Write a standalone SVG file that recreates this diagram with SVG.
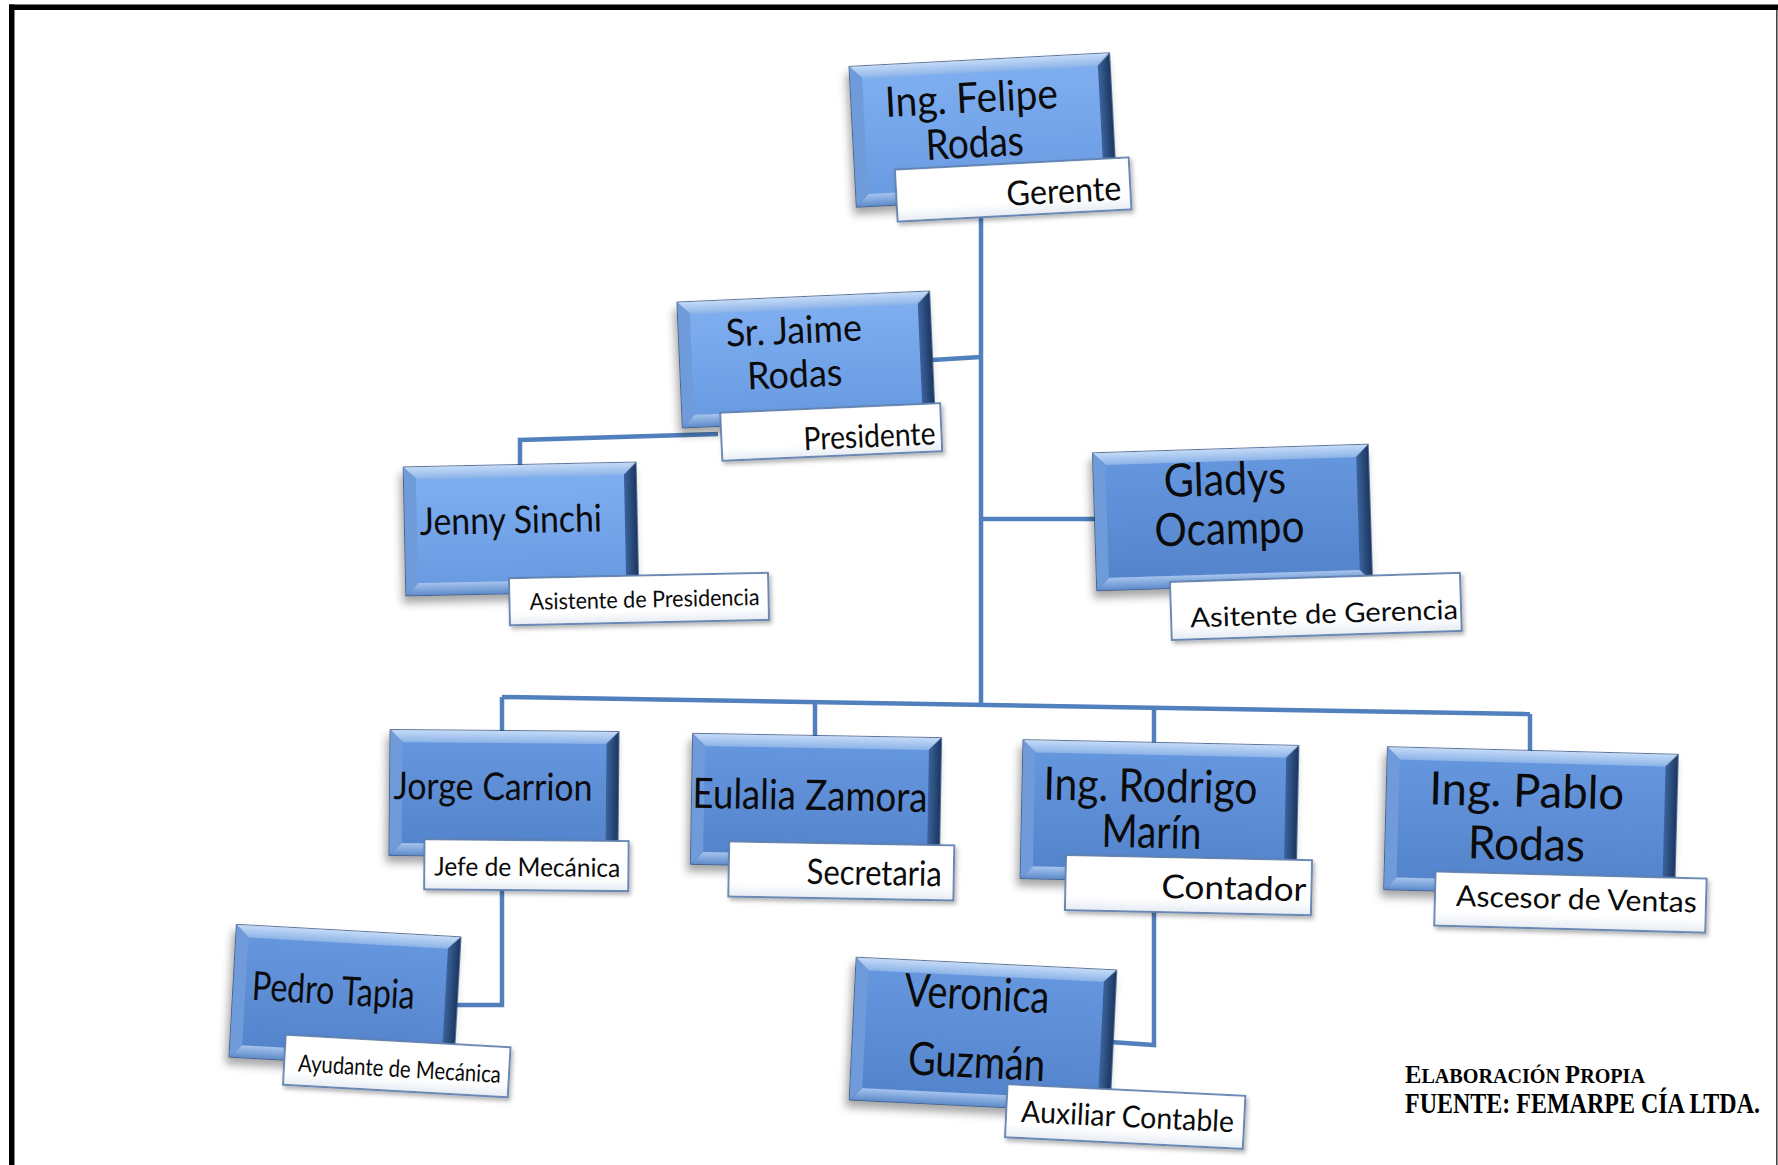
<svg xmlns="http://www.w3.org/2000/svg" width="1778" height="1165" viewBox="0 0 1778 1165">
<defs>
<linearGradient id="faceA" x1="0" y1="0" x2="0" y2="1"><stop offset="0" stop-color="#7eaef0"/><stop offset="1" stop-color="#6a9be2"/></linearGradient>
<linearGradient id="faceB" x1="0" y1="0" x2="0" y2="1"><stop offset="0" stop-color="#6596de"/><stop offset="1" stop-color="#5484cc"/></linearGradient>
<linearGradient id="bevT" x1="0" y1="0" x2="0" y2="1"><stop offset="0" stop-color="#c4dbf7"/><stop offset="1" stop-color="#8cb3e8"/></linearGradient>
<linearGradient id="bevR" x1="0" y1="0" x2="1" y2="0"><stop offset="0" stop-color="#3b639d"/><stop offset="1" stop-color="#1c375f"/></linearGradient>
<linearGradient id="bevB" x1="0" y1="0" x2="0" y2="1"><stop offset="0" stop-color="#a5c4ee"/><stop offset="1" stop-color="#5f8ccb"/></linearGradient>
<linearGradient id="lab" x1="0" y1="0" x2="0" y2="1"><stop offset="0" stop-color="#ffffff"/><stop offset="0.75" stop-color="#ffffff"/><stop offset="1" stop-color="#e6ecf4"/></linearGradient>
<filter id="sh" x="-20%" y="-20%" width="140%" height="150%"><feDropShadow dx="-3" dy="7" stdDeviation="4" flood-color="#000" flood-opacity="0.35"/></filter>
<filter id="shl" x="-10%" y="-20%" width="120%" height="160%"><feDropShadow dx="2" dy="3" stdDeviation="2" flood-color="#000" flood-opacity="0.3"/></filter>
</defs>
<style>
.rim{fill:#2f5892;stroke:#24467a;stroke-width:1.5}
.bt{fill:url(#bevT)}
.bl{fill:#6f9bda}
.br{fill:url(#bevR)}
.bb{fill:url(#bevB)}
.fa{fill:url(#faceA)}
.fb{fill:url(#faceB)}
.lab{fill:url(#lab);stroke:#5d7fae;stroke-width:1.8;filter:url(#shl)}
.nm{font-family:Lato,"Open Sans","DejaVu Sans",sans-serif;fill:#0b0b0b;text-anchor:middle}
.tl{font-family:Lato,"Open Sans","DejaVu Sans",sans-serif;fill:#0b0b0b}
.cn{fill:none;stroke:#5180bd;stroke-width:4.5;stroke-linejoin:miter}
.ft{font-family:"Liberation Serif","DejaVu Serif",serif;font-weight:bold;fill:#000}
</style>
<rect width="1778" height="1165" fill="#ffffff"/>
<g id="border">
<rect x="9" y="4.5" width="1769" height="5.5" fill="#000"/>
<rect x="9" y="4.5" width="5.5" height="1161" fill="#000"/>
<rect x="1776" y="10" width="1.6" height="1155" fill="#444"/>
</g>
<g id="connectors">
<path class="cn" d="M981,216 V705"/>
<path class="cn" d="M932,360 L981,357"/>
<path class="cn" d="M981,519 H1097"/>
<path class="cn" d="M718,434 L520,440 V466"/>
<path class="cn" d="M502,697 L1530,714"/>
<path class="cn" d="M502,697 V732"/>
<path class="cn" d="M815,702 V738"/>
<path class="cn" d="M1154,708 V744"/>
<path class="cn" d="M1530,714 V752"/>
<path class="cn" d="M502,890 V1005 H452"/>
<path class="cn" d="M1154,910 V1045 L1110,1042"/>
</g>
<g id="n-felipe" transform="rotate(-3 983 130)">
<g transform="translate(853,60)" filter="url(#sh)">
<rect class="rim" width="260" height="140"/>
<polygon class="bt" points="0,0 260,0 248,12 12,12"/><polygon class="bl" points="0,0 12,12 12,128 0,140"/><polygon class="br" points="260,0 260,140 248,128 248,12"/><polygon class="bb" points="0,140 260,140 248,128 12,128"/>
<rect class="fa" x="12" y="12" width="236" height="116"/>
</g>
<text class="nm" x="973" y="112" font-size="42" textLength="173" lengthAdjust="spacingAndGlyphs">Ing. Felipe</text>
<text class="nm" x="974" y="157" font-size="42" textLength="98" lengthAdjust="spacingAndGlyphs">Rodas</text>
<rect class="lab" x="893" y="165" width="234" height="52"/>
<text class="tl" x="1003" y="207" font-size="34" textLength="115" lengthAdjust="spacingAndGlyphs">Gerente</text>
</g>
<g id="n-jaime" transform="rotate(-2.5 806 359)">
<g transform="translate(680,297)" filter="url(#sh)">
<rect class="rim" width="252" height="125"/>
<polygon class="bt" points="0,0 252,0 240,12 12,12"/><polygon class="bl" points="0,0 12,12 12,113 0,125"/><polygon class="br" points="252,0 252,125 240,113 240,12"/><polygon class="bb" points="0,125 252,125 240,113 12,113"/>
<rect class="fa" x="12" y="12" width="228" height="101"/>
</g>
<text class="nm" x="795" y="343" font-size="38" textLength="136" lengthAdjust="spacingAndGlyphs">Sr. Jaime</text>
<text class="nm" x="794" y="387" font-size="38" textLength="95" lengthAdjust="spacingAndGlyphs">Rodas</text>
<rect class="lab" x="718" y="409" width="220" height="48"/>
<text class="tl" x="800" y="450" font-size="32" textLength="132" lengthAdjust="spacingAndGlyphs">Presidente</text>
</g>
<g id="n-jenny" transform="rotate(-1.2 521 529)">
<g transform="translate(405,465)" filter="url(#sh)">
<rect class="rim" width="232" height="128"/>
<polygon class="bt" points="0,0 232,0 220,12 12,12"/><polygon class="bl" points="0,0 12,12 12,116 0,128"/><polygon class="br" points="232,0 232,128 220,116 220,12"/><polygon class="bb" points="0,128 232,128 220,116 12,116"/>
<rect class="fa" x="12" y="12" width="208" height="104"/>
</g>
<text class="nm" x="511" y="533" font-size="38" textLength="182" lengthAdjust="spacingAndGlyphs">Jenny Sinchi</text>
<rect class="lab" x="508" y="578" width="259" height="47"/>
<text class="tl" x="528" y="610" font-size="23" textLength="230" lengthAdjust="spacingAndGlyphs">Asistente de Presidencia</text>
</g>
<g id="n-gladys" transform="rotate(-1.8 1232 517)">
<g transform="translate(1095,449)" filter="url(#sh)">
<rect class="rim" width="275" height="137"/>
<polygon class="bt" points="0,0 275,0 263,12 12,12"/><polygon class="bl" points="0,0 12,12 12,125 0,137"/><polygon class="br" points="275,0 275,137 263,125 263,12"/><polygon class="bb" points="0,137 275,137 263,125 12,125"/>
<rect class="fb" x="12" y="12" width="251" height="113"/>
</g>
<text class="nm" x="1226" y="495" font-size="46" textLength="122" lengthAdjust="spacingAndGlyphs">Gladys</text>
<text class="nm" x="1229" y="544" font-size="46" textLength="150" lengthAdjust="spacingAndGlyphs">Ocampo</text>
<rect class="lab" x="1168" y="580" width="290" height="58"/>
<text class="tl" x="1187" y="626" font-size="27" textLength="268" lengthAdjust="spacingAndGlyphs">Asitente de Gerencia</text>
</g>
<g id="n-jorge" transform="rotate(0.5 504 793)">
<g transform="translate(390,731)" filter="url(#sh)">
<rect class="rim" width="228" height="125"/>
<polygon class="bt" points="0,0 228,0 216,12 12,12"/><polygon class="bl" points="0,0 12,12 12,113 0,125"/><polygon class="br" points="228,0 228,125 216,113 216,12"/><polygon class="bb" points="0,125 228,125 216,113 12,113"/>
<rect class="fb" x="12" y="12" width="204" height="101"/>
</g>
<text class="nm" x="493" y="800" font-size="38" textLength="199" lengthAdjust="spacingAndGlyphs">Jorge Carrion</text>
<rect class="lab" x="425" y="840" width="204" height="50"/>
<text class="tl" x="435" y="876" font-size="26" textLength="186" lengthAdjust="spacingAndGlyphs">Jefe de Mecánica</text>
</g>
<g id="n-eulalia" transform="rotate(1 816 801)">
<g transform="translate(692,736)" filter="url(#sh)">
<rect class="rim" width="248" height="130"/>
<polygon class="bt" points="0,0 248,0 236,12 12,12"/><polygon class="bl" points="0,0 12,12 12,118 0,130"/><polygon class="br" points="248,0 248,130 236,118 236,12"/><polygon class="bb" points="0,130 248,130 236,118 12,118"/>
<rect class="fb" x="12" y="12" width="224" height="106"/>
</g>
<text class="nm" x="810" y="810" font-size="42" textLength="235" lengthAdjust="spacingAndGlyphs">Eulalia Zamora</text>
<rect class="lab" x="730" y="843" width="225" height="55"/>
<text class="tl" x="808" y="884" font-size="35" textLength="135" lengthAdjust="spacingAndGlyphs">Secretaria</text>
</g>
<g id="n-rodrigo" transform="rotate(1.2 1159 812)">
<g transform="translate(1022,743)" filter="url(#sh)">
<rect class="rim" width="275" height="138"/>
<polygon class="bt" points="0,0 275,0 263,12 12,12"/><polygon class="bl" points="0,0 12,12 12,126 0,138"/><polygon class="br" points="275,0 275,138 263,126 263,12"/><polygon class="bb" points="0,138 275,138 263,126 12,126"/>
<rect class="fb" x="12" y="12" width="251" height="114"/>
</g>
<text class="nm" x="1150" y="802" font-size="46" textLength="214" lengthAdjust="spacingAndGlyphs">Ing. Rodrigo</text>
<text class="nm" x="1152" y="848" font-size="46" textLength="100" lengthAdjust="spacingAndGlyphs">Marín</text>
<rect class="lab" x="1067" y="857" width="246" height="55"/>
<text class="tl" x="1163" y="898" font-size="33" textLength="145" lengthAdjust="spacingAndGlyphs">Contador</text>
</g>
<g id="n-pablo" transform="rotate(1.5 1531 822)">
<g transform="translate(1386,751)" filter="url(#sh)">
<rect class="rim" width="290" height="142"/>
<polygon class="bt" points="0,0 290,0 278,12 12,12"/><polygon class="bl" points="0,0 12,12 12,130 0,142"/><polygon class="br" points="290,0 290,142 278,130 278,12"/><polygon class="bb" points="0,142 290,142 278,130 12,130"/>
<rect class="fb" x="12" y="12" width="266" height="118"/>
</g>
<text class="nm" x="1526" y="807" font-size="46" textLength="195" lengthAdjust="spacingAndGlyphs">Ing. Pablo</text>
<text class="nm" x="1527" y="860" font-size="46" textLength="117" lengthAdjust="spacingAndGlyphs">Rodas</text>
<rect class="lab" x="1437" y="874" width="271" height="54"/>
<text class="tl" x="1458" y="908" font-size="29" textLength="241" lengthAdjust="spacingAndGlyphs">Ascesor de Ventas</text>
</g>
<g id="n-pedro" transform="rotate(3.2 345 997)">
<g transform="translate(233,931)" filter="url(#sh)">
<rect class="rim" width="224" height="132"/>
<polygon class="bt" points="0,0 224,0 212,12 12,12"/><polygon class="bl" points="0,0 12,12 12,120 0,132"/><polygon class="br" points="224,0 224,132 212,120 212,12"/><polygon class="bb" points="0,132 224,132 212,120 12,120"/>
<rect class="fb" x="12" y="12" width="200" height="108"/>
</g>
<text class="nm" x="333" y="1005" font-size="40" textLength="163" lengthAdjust="spacingAndGlyphs">Pedro Tapia</text>
<rect class="lab" x="288" y="1038" width="225" height="50"/>
<text class="tl" x="302" y="1074" font-size="24" textLength="203" lengthAdjust="spacingAndGlyphs">Ayudante de Mecánica</text>
</g>
<g id="n-veronica" transform="rotate(2.8 983 1035)">
<g transform="translate(853,964)" filter="url(#sh)">
<rect class="rim" width="260" height="142"/>
<polygon class="bt" points="0,0 260,0 248,12 12,12"/><polygon class="bl" points="0,0 12,12 12,130 0,142"/><polygon class="br" points="260,0 260,142 248,130 248,12"/><polygon class="bb" points="0,142 260,142 248,130 12,130"/>
<rect class="fb" x="12" y="12" width="236" height="118"/>
</g>
<text class="nm" x="975" y="1010" font-size="46" textLength="145" lengthAdjust="spacingAndGlyphs">Veronica</text>
<text class="nm" x="978" y="1078" font-size="46" textLength="137" lengthAdjust="spacingAndGlyphs">Guzmán</text>
<rect class="lab" x="1010" y="1083" width="238" height="53"/>
<text class="tl" x="1025" y="1120" font-size="30" textLength="213" lengthAdjust="spacingAndGlyphs">Auxiliar Contable</text>
</g>
<g id="footer">
<text class="ft" transform="translate(1405 1083) scale(1 1.15)" x="0" y="0" textLength="240" lengthAdjust="spacingAndGlyphs"><tspan font-size="22">E</tspan><tspan font-size="18">LABORACIÓN </tspan><tspan font-size="22">P</tspan><tspan font-size="18">ROPIA</tspan></text>
<text class="ft" transform="translate(1405 1113) scale(1 1.22)" x="0" y="0" font-size="24" textLength="355" lengthAdjust="spacingAndGlyphs">FUENTE: FEMARPE CÍA LTDA.</text>
</g>
</svg>
